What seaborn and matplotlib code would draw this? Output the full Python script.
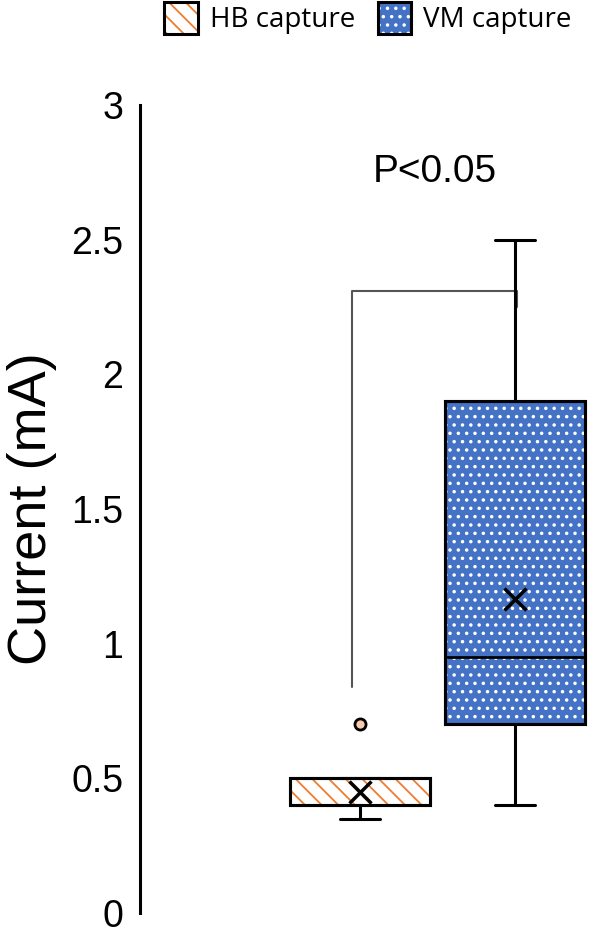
import numpy as np
import pandas as pd
import seaborn as sns
import matplotlib.pyplot as plt
from matplotlib.patches import Patch, PathPatch

# Data (boxes, whiskers, means, outlier)
groups = ['HB capture', 'VM capture']
hb_current = [0.35, 0.4, 0.4, 0.4, 0.4, 0.4, 0.5, 0.5, 0.7]
vm_current = [0.4, 0.5, 0.7, 0.7, 0.95, 0.95, 1.9, 1.9, 2.5]
yticks = [0, 0.5, 1, 1.5, 2, 2.5, 3]
ytick_labels = ['0', '0.5', '1', '1.5', '2', '2.5', '3']
p_label = 'P<0.05'

# Styles
fill_colors = ['white', '#4472C4']
hatch_colors = ['#ED7D31', 'white']
hatches = ['\\\\', '..']

df = pd.DataFrame({
    'group': [groups[0]] * len(hb_current) + [groups[1]] * len(vm_current),
    'current': hb_current + vm_current,
})

sns.set_style('white')
plt.rcParams['font.family'] = ['Liberation Sans', 'DejaVu Sans']
plt.rcParams['hatch.linewidth'] = 1.3
plt.rcParams['text.color'] = 'black'
plt.rcParams['axes.labelcolor'] = 'black'
plt.rcParams['ytick.color'] = 'black'

fig = plt.figure(figsize=(5.91, 9.35), dpi=100)
ax = fig.add_axes([140 / 591, 22 / 935, 451 / 591, 808 / 935])

sns.boxplot(
    data=df, x='group', y='current', hue='group',
    order=groups, hue_order=groups,
    palette=dict(zip(groups, fill_colors)), saturation=1,
    width=0.9, linecolor='black', linewidth=2.2, whis=1.5,
    capwidths=0.26,
    showmeans=True,
    meanprops=dict(marker='x', markeredgecolor='black', markersize=16,
                   markeredgewidth=2.5),
    flierprops=dict(marker='o', markerfacecolor='#F8CBAD',
                    markeredgecolor='black', markersize=8, markeredgewidth=2),
    medianprops=dict(color='black', linewidth=2),
    legend=False, ax=ax,
)

# coloured hatch overlays on the boxes
boxes = sorted([p for p in ax.patches], key=lambda p: p.get_path().vertices[:, 0].mean())
for p, hc, h in zip(boxes, hatch_colors, hatches):
    z = p.get_zorder()
    ax.add_patch(PathPatch(p.get_path(), transform=p.get_transform(),
                           facecolor='none', edgecolor=hc, hatch=h,
                           linewidth=0, zorder=z + 0.01))
    ax.add_patch(PathPatch(p.get_path(), transform=p.get_transform(),
                           facecolor='none', edgecolor='black',
                           linewidth=2.2, zorder=z + 0.02))

# significance bracket
ax.plot([-0.05, -0.05, 1.01, 1.01], [0.84, 2.31, 2.31, 2.25],
        color='#555555', linewidth=1.5, zorder=1)
ax.text(0.48, 2.75, p_label, ha='center', va='center', fontsize=28)

ax.set_xlim(-1.42, 1.49)
ax.set_ylim(0, 3)
ax.set_yticks(yticks)
ax.set_yticklabels(ytick_labels)
ax.set_xticks([])
ax.set_xlabel('')
ax.set_ylabel('Current (mA)', fontsize=39)
ax.yaxis.set_label_coords(-0.185, 0.5)
ax.tick_params(axis='y', length=0, pad=12, labelsize=27)
sns.despine(ax=ax, bottom=True)
ax.spines['left'].set_linewidth(2.2)
ax.spines['left'].set_color('black')

handles = [
    (Patch(facecolor=fc, edgecolor=hc, hatch=h, linewidth=0),
     Patch(facecolor='none', edgecolor='black', linewidth=2.2))
    for fc, hc, h in zip(fill_colors, hatch_colors, hatches)
]
fig.legend(handles, groups, loc='center', bbox_to_anchor=(368 / 591, 1 - 18 / 935),
           ncol=2, frameon=False, prop={'family': 'Open Sans', 'size': 20},
           handlelength=1.2, handleheight=1.4, handletextpad=0.45,
           columnspacing=0.8)

fig.savefig('out.png', dpi=100)
